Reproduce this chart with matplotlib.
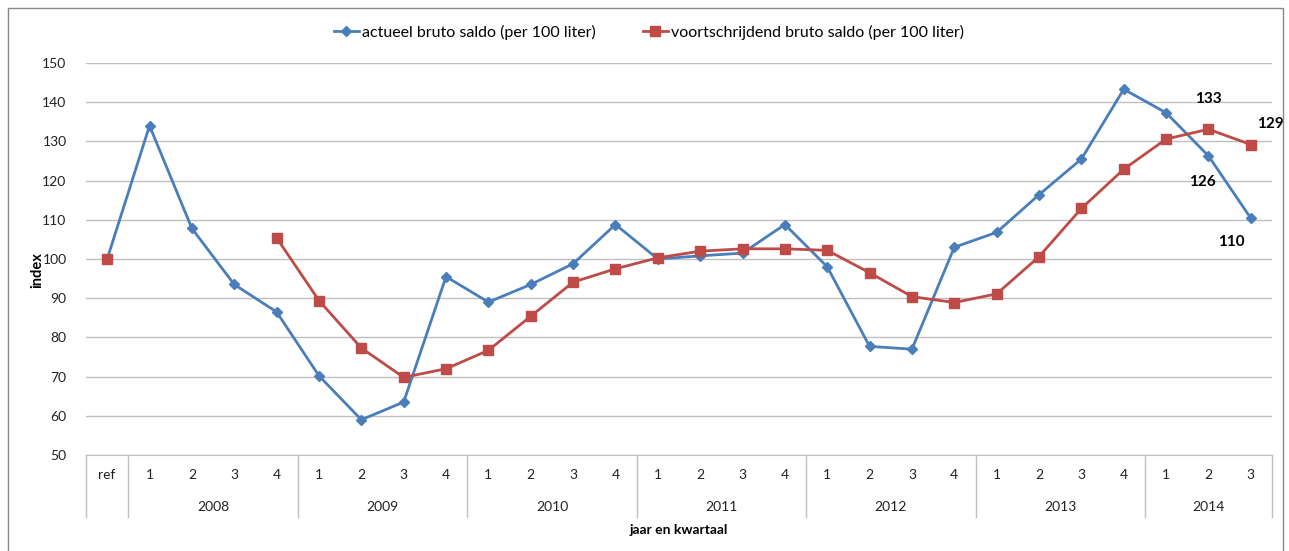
import matplotlib
matplotlib.use("Agg")
import matplotlib.pyplot as plt
import numpy as np
from matplotlib.patches import Rectangle

plt.rcParams['font.family'] = ['Lato', 'DejaVu Sans']

quarters = ["ref"] + ["1", "2", "3", "4"] * 6 + ["1", "2", "3"]
years = ["2008", "2009", "2010", "2011", "2012", "2013", "2014"]
year_sizes = [4, 4, 4, 4, 4, 4, 3]

actueel = [100, 134, 107.8, 93.5, 86.5, 70.2, 59, 63.5, 95.5, 89, 93.5, 98.8, 108.8,
           100, 100.8, 101.5, 108.8, 98, 77.7, 77, 103, 106.8, 116.4, 125.5, 143.3,
           137.3, 126.3, 110.4]
voortschrijdend = [100, np.nan, np.nan, np.nan, 105.4, 89.4, 77.3, 69.8, 72, 76.7, 85.4,
                   94.1, 97.5, 100.3, 102, 102.6, 102.6, 102.2, 96.5, 90.4, 88.9, 91.1,
                   100.6, 112.9, 122.9, 130.6, 133.1, 129.2]
labels_text = ["133", "129", "126", "110"]

blue = "#4A7EBB"
red = "#BE4B48"

W, H = 1289, 551
fig = plt.figure(figsize=(W / 100, H / 100), dpi=100)
fig.patches.append(Rectangle((8 / W, -0.01), (1283 - 8) / W, (551 - 8) / H + 0.01,
                             transform=fig.transFigure, fill=False, edgecolor="#888888", lw=1.0))

left, right, top, bottom = 86, 1272, 63, 455
ax = fig.add_axes([left / W, 1 - bottom / H, (right - left) / W, (bottom - top) / H])

x = np.arange(len(quarters))
ax.plot(x, actueel, color=blue, lw=2, marker="D", ms=5.5, mec=blue, mfc=blue,
        label="actueel bruto saldo (per 100 liter)", zorder=3)
ax.plot(x, voortschrijdend, color=red, lw=2, marker="s", ms=7, mec=red, mfc=red,
        label="voortschrijdend bruto saldo (per 100 liter)", zorder=4)

ax.set_xlim(-0.5, len(quarters) - 0.5)
ax.set_ylim(50, 150)
ax.set_yticks(range(50, 151, 10))
ax.yaxis.grid(True, color="#BFBFBF", lw=1)
ax.set_axisbelow(True)
for s in ["top", "right", "left"]:
    ax.spines[s].set_visible(False)
ax.spines["bottom"].set_color("#BFBFBF")
ax.tick_params(axis="y", length=0, labelsize=10, colors="#222222", pad=14)
ax.set_xticks([])

trans = ax.get_xaxis_transform()
ph = bottom - top
for i, q in enumerate(quarters):
    ax.text(i, -20 / ph, q, transform=trans, ha="center", va="center",
            fontsize=10, color="#222222")
bounds = [-0.5, 0.5]
pos = 0.5
for n in year_sizes:
    pos += n
    bounds.append(pos)
bounds[-1] = len(quarters) - 0.5
for b in bounds:
    ax.plot([b, b], [0, -62 / ph], transform=trans, color="#BFBFBF", lw=1, clip_on=False)
for k, yr in enumerate(years):
    c = (bounds[k + 1] + bounds[k + 2]) / 2
    ax.text(c, -52 / ph, yr, transform=trans, ha="center", va="center",
            fontsize=10, color="#222222")

ax.text(0.5, -75 / ph, "jaar en kwartaal", transform=ax.transAxes, ha="center",
        va="center", fontsize=10, fontweight="bold")
fig.text(37 / W, 1 - 270 / H, "index", rotation=90, ha="center", va="center",
         fontsize=10.5, fontweight="bold")

n = len(quarters)
ax.annotate(labels_text[0], (n - 2, voortschrijdend[n - 2]), xytext=(0, 22), textcoords="offset points",
            ha="center", va="center", fontsize=11, fontweight="bold")
ax.annotate(labels_text[1], (n - 1, voortschrijdend[n - 1]), xytext=(14, 15), textcoords="offset points",
            ha="center", va="center", fontsize=11, fontweight="bold")
ax.annotate(labels_text[2], (n - 2, actueel[n - 2]), xytext=(-4, -19), textcoords="offset points",
            ha="center", va="center", fontsize=11, fontweight="bold")
ax.annotate(labels_text[3], (n - 1, actueel[n - 1]), xytext=(-14, -17), textcoords="offset points",
            ha="center", va="center", fontsize=11, fontweight="bold")

leg = fig.legend(loc="center", bbox_to_anchor=(649 / W, 1 - 32 / H), ncol=2, frameon=False,
                 fontsize=11.5, handlelength=1.6, handletextpad=0.2, columnspacing=2.9)

fig.savefig("out.png", dpi=100)
